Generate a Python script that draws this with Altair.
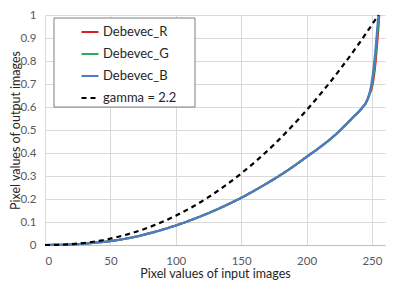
import altair as alt
import pandas as pd

series_names = ["Debevec_R", "Debevec_G", "Debevec_B", "gamma = 2.2"]
colors = ["#e0201c", "#2eaa55", "#4a7cc7", "#000000"]

base_x = [0, 10, 20, 30, 40, 50, 60, 70, 80, 90, 100, 110, 120, 130, 140, 150,
          160, 170, 180, 190, 200, 210, 220, 230, 236, 240, 243, 246, 248]
base_y = [0, 0.0004, 0.0025, 0.006, 0.011, 0.017, 0.026, 0.037, 0.051, 0.067,
          0.085, 0.105, 0.127, 0.151, 0.177, 0.205, 0.236, 0.269, 0.304, 0.342,
          0.383, 0.424, 0.469, 0.523, 0.558, 0.58, 0.60, 0.625, 0.655]

r_tail_x = [250, 251, 252, 253, 254, 255, 255.6]
r_tail_y = [0.685, 0.715, 0.755, 0.81, 0.88, 0.95, 1.0]
g_tail_x = [250, 251, 252, 253, 254, 255, 255.3]
g_tail_y = [0.70, 0.735, 0.78, 0.84, 0.91, 0.975, 1.0]
b_tail_x = [250, 251, 252, 253, 254, 254.6, 255]
b_tail_y = [0.715, 0.755, 0.805, 0.865, 0.935, 0.975, 1.0]

gamma_x = [0, 12.5, 25, 50, 75, 100, 125, 150, 175, 200, 225, 240, 255]
gamma_y = [0, 0.0013, 0.006, 0.0277, 0.0677, 0.1275, 0.208, 0.311, 0.436,
           0.586, 0.759, 0.875, 1.0]

x_ticks = [0, 50, 100, 150, 200, 250]
y_ticks = [0, 0.1, 0.2, 0.3, 0.4, 0.5, 0.6, 0.7, 0.8, 0.9, 1]

rows = []
def add(name, xs, ys):
    for i, (a, b) in enumerate(zip(xs, ys)):
        rows.append({"series": name, "x": a, "y": b, "ord": i})

add("Debevec_R", base_x + r_tail_x, base_y + r_tail_y)
add("Debevec_G", base_x + g_tail_x, base_y + g_tail_y)
add("Debevec_B", base_x + b_tail_x, base_y + b_tail_y)
add("gamma = 2.2", gamma_x, gamma_y)
df = pd.DataFrame(rows)

FONT = "Lato"

legend = alt.Legend(title=None,
                    orient="none", legendX=9, legendY=3,
                    padding=4, symbolType="stroke",
                    symbolSize=289, symbolStrokeWidth=2.2,
                    rowPadding=5, labelFontSize=13,
                    labelFont=FONT, labelColor="#262626",
                    symbolOffset=22, labelOffset=3)

lines = alt.Chart(df).mark_line(strokeWidth=2.2, interpolate="monotone").encode(
    x=alt.X("x:Q", scale=alt.Scale(domain=[0, 260], nice=False),
            axis=alt.Axis(values=x_ticks, title="Pixel values of input images",
                          grid=True, ticks=False, labelPadding=10,
                          titlePadding=1, domainColor="#bfbfbf")),
    y=alt.Y("y:Q", scale=alt.Scale(domain=[0, 1], nice=False),
            axis=alt.Axis(values=y_ticks, format="~g",
                          title="Pixel values of output images",
                          grid=True, ticks=False, domain=False, labelPadding=9,
                          titleX=-30, titleY=115, titleAngle=270,
                          titleAlign="center", titleBaseline="middle")),
    color=alt.Color("series:N", scale=alt.Scale(domain=series_names, range=colors),
                    legend=legend),
    strokeDash=alt.StrokeDash("series:N", scale=alt.Scale(domain=series_names,
                              range=[[1, 0], [1, 0], [1, 0], [5, 4]]),
                              legend=legend),
    detail="series:N",
    order="ord:Q",
)

# legend frame (decoration behind the legend entries)
frame = alt.Chart(pd.DataFrame({"k": [0]})).mark_rect(
    fill="white", stroke="#7f7f7f", strokeWidth=1
).encode(
    x=alt.value(9), x2=alt.value(150), y=alt.value(3), y2=alt.value(92)
)

chart = alt.layer(lines, frame).properties(
    width=340, height=230,
    autosize="none",
    padding={"left": 37, "top": 7, "right": 6, "bottom": 38},
).configure_axis(
    gridColor="#d9d9d9", gridWidth=1,
    labelFont=FONT, labelFontSize=11.5, labelColor="#595959",
    titleFont=FONT, titleFontSize=12.5, titleFontWeight="normal", titleColor="#262626",
).configure_view(stroke=None)

chart.save("out.html", embed_options={"renderer": "svg", "actions": False})
